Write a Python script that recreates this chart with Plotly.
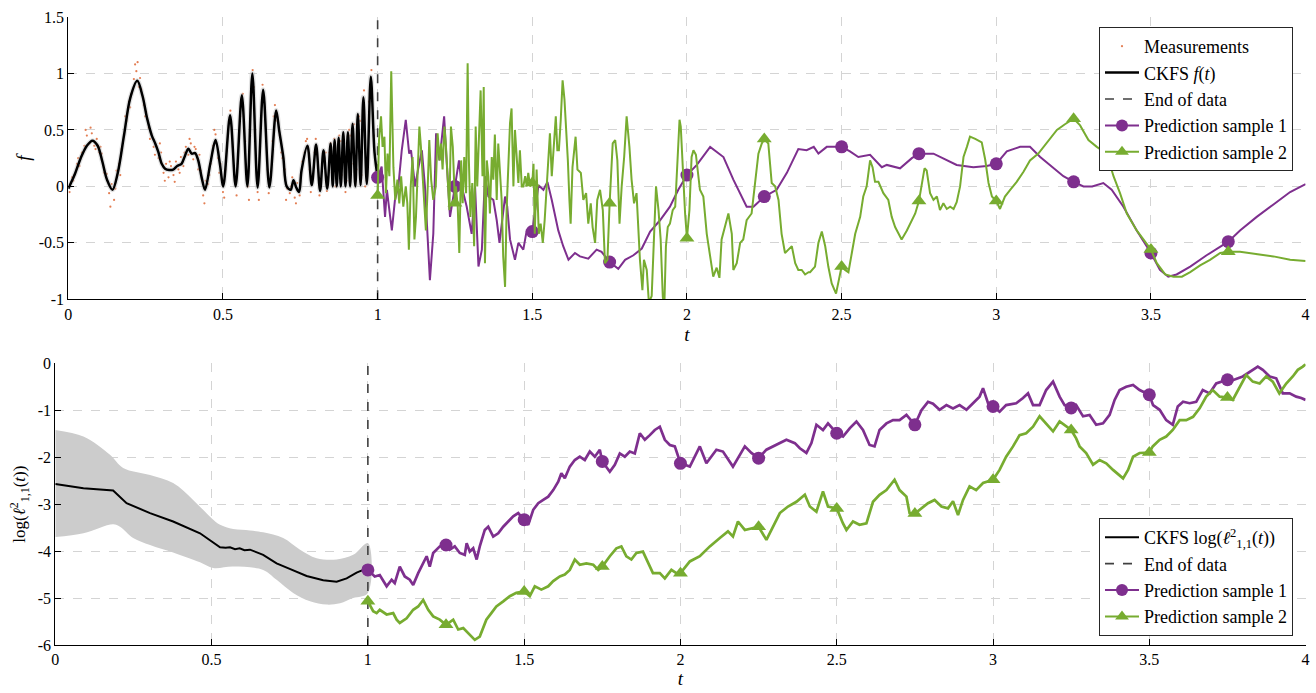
import plotly.graph_objects as go

# ---------------- top panel: f(t) ----------------
meas_t = [0.004, 0.012, 0.020, 0.028, 0.036, 0.044, 0.052, 0.060, 0.068, 0.076, 0.084, 0.092, 0.100, 0.108,
          0.116, 0.124, 0.132, 0.140, 0.148, 0.156, 0.164, 0.172, 0.180, 0.188, 0.196, 0.204, 0.212, 0.220,
          0.228, 0.236, 0.244, 0.252, 0.260, 0.268, 0.276, 0.284, 0.292, 0.300, 0.308, 0.316, 0.324, 0.332,
          0.340, 0.348, 0.356, 0.364, 0.372, 0.380, 0.388, 0.396, 0.404, 0.412, 0.420, 0.428, 0.436, 0.444,
          0.452, 0.460, 0.468, 0.476, 0.484, 0.492, 0.500, 0.508, 0.516, 0.524, 0.532, 0.540, 0.548, 0.556,
          0.564, 0.572, 0.580, 0.588, 0.596, 0.604, 0.612, 0.620, 0.628, 0.636, 0.644, 0.652, 0.660, 0.668,
          0.676, 0.684, 0.692, 0.700, 0.708, 0.716, 0.724, 0.732, 0.740, 0.748, 0.756, 0.764, 0.772, 0.780,
          0.788, 0.796, 0.804, 0.812, 0.820, 0.828, 0.836, 0.844, 0.852, 0.860, 0.868, 0.876, 0.884, 0.892,
          0.900, 0.908, 0.916, 0.924, 0.932, 0.940, 0.948, 0.956, 0.964, 0.972, 0.980, 0.988, 0.996,
          0.016, 0.032, 0.056, 0.072, 0.088, 0.104, 0.136, 0.152, 0.168, 0.184, 0.200, 0.216, 0.224, 0.232,
          0.248, 0.264, 0.280, 0.296, 0.312, 0.328, 0.344, 0.360, 0.376, 0.392, 0.408, 0.424, 0.440, 0.456,
          0.472, 0.488, 0.504, 0.520, 0.544, 0.560, 0.584, 0.600, 0.616, 0.632, 0.648, 0.664, 0.688, 0.704,
          0.720, 0.736, 0.752, 0.768, 0.784, 0.800, 0.816, 0.832, 0.848, 0.864, 0.880, 0.896, 0.912, 0.928,
          0.944, 0.960, 0.976, 0.992]
meas_f = [-0.05, 0.08, 0.10, 0.20, 0.18, 0.30, 0.36, 0.45, 0.38, 0.47, 0.36, 0.42, 0.30, 0.29,
          0.12, 0.11, -0.06, 0.02, -0.12, 0.14, 0.20, 0.33, 0.46, 0.58, 0.75, 0.82, 0.95, 1.02,
          0.88, 0.86, 0.72, 0.66, 0.52, 0.47, 0.35, 0.36, 0.25, 0.30, 0.12, 0.20, 0.08, 0.18,
          0.10, 0.22, 0.15, 0.26, 0.18, 0.35, 0.28, 0.38, 0.24, 0.33, 0.15, 0.14, -0.08, 0.05,
          0.02, 0.20, 0.36, 0.46, 0.25, 0.20, -0.05, 0.15, 0.50, 0.67, 0.35, 0.04, 0.20, 0.62,
          0.82, 0.40, 0.00, 0.45, 1.03, 0.50, -0.05, 0.35, 0.90, 0.70, 0.15, 0.05, 0.40, 0.72,
          0.58, 0.45, 0.25, 0.15, -0.02, -0.06, 0.08, -0.10, 0.03, -0.08, 0.22, 0.30, 0.42, 0.15,
          0.05, 0.30, 0.28, -0.08, 0.20, 0.25, -0.04, 0.30, 0.12, 0.42, 0.05, 0.45, 0.10, 0.38,
          0.05, 0.50, 0.20, 0.55, 0.15, 0.62, 0.10, 0.85, 0.05, 0.75, 1.03, 0.45, 0.12,
          0.05, 0.25, 0.50, 0.52, 0.33, 0.35, -0.18, -0.02, 0.10, 0.62, 0.70, 1.08, 1.10, 0.96,
          0.62, 0.42, 0.28, 0.38, 0.05, 0.22, 0.04, 0.12, 0.30, 0.42, 0.35, 0.28, -0.15, 0.10,
          0.50, 0.12, -0.10, 0.58, -0.08, 0.72, -0.12, 0.88, -0.12, 0.78, -0.06, 0.62, 0.30, -0.12,
          0.00, -0.15, 0.10, 0.40, -0.05, 0.42, 0.05, 0.30, 0.38, 0.00, 0.40, -0.05, 0.45, 0.02,
          0.58, 0.00, 0.90, 0.25]

ckfs_t = [0.0, 0.02, 0.04, 0.06, 0.078, 0.095, 0.11, 0.125, 0.143, 0.16, 0.18, 0.2, 0.223, 0.24, 0.255,
          0.27, 0.281, 0.291, 0.302, 0.313, 0.326, 0.339, 0.352, 0.366, 0.377, 0.388, 0.399, 0.41, 0.42,
          0.431, 0.442, 0.459, 0.476, 0.49, 0.501, 0.523, 0.541, 0.561, 0.579, 0.595, 0.612, 0.63, 0.65,
          0.672, 0.682, 0.695, 0.706, 0.719, 0.728, 0.737, 0.746, 0.754, 0.773, 0.787, 0.801, 0.814,
          0.825, 0.837, 0.848, 0.855, 0.861, 0.868, 0.874, 0.881, 0.889, 0.896, 0.904, 0.911, 0.919,
          0.928, 0.936, 0.945, 0.954, 0.965, 0.978, 0.99, 1.0]
ckfs_f = [-0.02, 0.10, 0.25, 0.36, 0.405, 0.36, 0.22, 0.06, -0.03, 0.12, 0.45, 0.78, 0.935, 0.80, 0.60,
          0.45, 0.38, 0.305, 0.20, 0.157, 0.145, 0.148, 0.18, 0.20, 0.27, 0.334, 0.29, 0.295, 0.23,
          0.08, -0.03, 0.20, 0.41, 0.20, 0.0, 0.63, 0.0, 0.806, 0.0, 1.0, -0.01, 0.855, -0.01,
          0.673, 0.49, 0.26, 0.0, -0.03, 0.055, -0.01, -0.05, 0.14, 0.36, 0.01, 0.37, -0.04,
          0.32, -0.02, 0.38, 0.0, 0.41, 0.0, 0.43, 0.0, 0.48, 0.0, 0.48, 0.0, 0.555,
          0.0, 0.64, 0.01, 0.79, 0.02, 0.97, 0.30, 0.08]

pred1_t = [1.0, 1.013, 1.024, 1.03, 1.046, 1.056, 1.067, 1.078, 1.091, 1.102, 1.108, 1.121, 1.132, 1.143,
           1.153, 1.169, 1.18, 1.189, 1.2, 1.207, 1.215, 1.223, 1.234, 1.25, 1.258, 1.263, 1.272, 1.288,
           1.304, 1.315, 1.326, 1.337, 1.347, 1.358, 1.374, 1.385, 1.394, 1.404, 1.412, 1.419, 1.428,
           1.444, 1.455, 1.471, 1.482, 1.5, 1.52, 1.536, 1.549, 1.563, 1.584, 1.6, 1.617, 1.638, 1.654,
           1.681, 1.708, 1.724, 1.75, 1.778, 1.8, 1.827, 1.854, 1.881, 1.913, 1.945, 1.972, 2.0, 2.032,
           2.075, 2.118, 2.15, 2.193, 2.215, 2.25, 2.29, 2.323, 2.36, 2.387, 2.41, 2.425, 2.452, 2.5,
           2.527, 2.554, 2.592, 2.63, 2.646, 2.689, 2.727, 2.75, 2.797, 2.84, 2.872, 2.926, 2.969, 3.0,
           3.034, 3.077, 3.109, 3.142, 3.185, 3.217, 3.25, 3.282, 3.31, 3.346, 3.373, 3.411, 3.454, 3.5,
           3.529, 3.556, 3.583, 3.627, 3.68, 3.75, 3.788, 3.842, 3.896, 3.95, 4.0]
pred1_f = [0.08, 0.175, -0.27, -0.03, -0.39, -0.12, 0.0, 0.32, 0.59, 0.29, 0.32, 0.0, 0.17, 0.32,
           0.0, -0.83, -0.42, 0.47, 0.23, 0.41, 0.62, 0.23, -0.27, 0.0, 0.15, 0.23, 0.0, -0.18,
           -0.42, 0.0, -0.71, -0.56, 0.09, -0.09, -0.12, -0.30, -0.50, -0.27, -0.09, -0.18, -0.47,
           -0.65, -0.50, -0.56, -0.39, -0.40, 0.01, -0.03, 0.04, -0.12, -0.39, -0.53, -0.65, -0.59, -0.62,
           -0.64, -0.56, -0.58, -0.67, -0.73, -0.65, -0.61, -0.55, -0.40, -0.30, -0.18, -0.03, 0.10, 0.19,
           0.35, 0.26, 0.06, -0.18, -0.18, -0.09, -0.03, 0.12, 0.33, 0.32, 0.35, 0.29, 0.35, 0.35,
           0.31, 0.26, 0.28, 0.17, 0.19, 0.16, 0.25, 0.29, 0.29, 0.23, 0.19, 0.17, 0.18, 0.20,
           0.31, 0.35, 0.35, 0.26, 0.16, 0.09, 0.04, 0.0, 0.0, 0.03, -0.03, -0.18, -0.39, -0.59,
           -0.74, -0.80, -0.78, -0.71, -0.61, -0.49, -0.39, -0.27, -0.16, -0.05, 0.02]

pred2_t = [1.0, 1.0045, 1.011, 1.016, 1.022, 1.027, 1.032, 1.038, 1.044, 1.051, 1.057, 1.064, 1.070, 1.076,
           1.083, 1.091, 1.096, 1.101, 1.107, 1.113, 1.119, 1.124, 1.129, 1.135, 1.140, 1.146, 1.151,
           1.156, 1.162, 1.167, 1.173, 1.18, 1.188, 1.194, 1.2, 1.205, 1.210, 1.216, 1.221, 1.226, 1.232,
           1.237, 1.243, 1.25, 1.253, 1.259, 1.264, 1.270, 1.275, 1.280, 1.286, 1.291, 1.295, 1.3, 1.306,
           1.312, 1.317, 1.322, 1.328, 1.333, 1.339, 1.343, 1.347, 1.353, 1.358, 1.363, 1.369, 1.374,
           1.379, 1.385, 1.39, 1.396, 1.401, 1.406, 1.412, 1.417, 1.423, 1.428, 1.433, 1.439, 1.444, 1.45,
           1.455, 1.460, 1.466, 1.471, 1.477, 1.482, 1.487, 1.493, 1.5, 1.504, 1.508, 1.514, 1.521, 1.527,
           1.534, 1.54, 1.547, 1.552, 1.557, 1.563, 1.568, 1.576, 1.581, 1.586, 1.592, 1.598, 1.604, 1.609,
           1.615, 1.62, 1.624, 1.63, 1.635, 1.64, 1.646, 1.657, 1.665, 1.674, 1.681, 1.689, 1.695, 1.703,
           1.71, 1.719, 1.728, 1.735, 1.743, 1.75, 1.76, 1.768, 1.775, 1.782, 1.789, 1.797, 1.805, 1.814,
           1.821, 1.829, 1.837, 1.848, 1.856, 1.861, 1.87, 1.877, 1.886, 1.893, 1.9, 1.908, 1.915, 1.922,
           1.927, 1.932, 1.938, 1.945, 1.954, 1.962, 1.969, 1.976, 1.98, 1.986, 1.994, 2.0, 2.008, 2.015,
           2.021, 2.029, 2.042, 2.053, 2.064, 2.075, 2.085, 2.096, 2.105, 2.112, 2.123, 2.134, 2.145,
           2.15, 2.161, 2.172, 2.182, 2.193, 2.209, 2.22, 2.231, 2.242, 2.25, 2.263, 2.274, 2.285, 2.296,
           2.306, 2.317, 2.328, 2.339, 2.35, 2.36, 2.371, 2.382, 2.393, 2.398, 2.414, 2.425, 2.436, 2.447,
           2.457, 2.468, 2.482, 2.49, 2.5, 2.511, 2.522, 2.533, 2.544, 2.56, 2.57, 2.581, 2.592, 2.6,
           2.608, 2.619, 2.635, 2.651, 2.662, 2.673, 2.684, 2.694, 2.711, 2.727, 2.738, 2.75, 2.759,
           2.768, 2.775, 2.786, 2.797, 2.808, 2.818, 2.829, 2.84, 2.851, 2.862, 2.872, 2.883, 2.894,
           2.905, 2.915, 2.932, 2.953, 2.964, 2.975, 2.986, 3.0, 3.012, 3.028, 3.045, 3.066, 3.088,
           3.109, 3.136, 3.163, 3.196, 3.222, 3.25, 3.271, 3.298, 3.325, 3.357, 3.379, 3.4, 3.422,
           3.454, 3.5, 3.519, 3.546, 3.573, 3.6, 3.627, 3.659, 3.691, 3.724, 3.75, 3.788, 3.842, 3.896,
           3.95, 4.0]
pred2_f = [-0.08, 0.41, 0.62, 0.35, 0.44, -0.06, 0.29, 0.09, 1.02, 0.17, -0.12, 0.06, -0.15, 0.09,
           -0.18, 0.0, -0.15, -0.56, 0.0, 0.26, -0.47, -0.27, 0.09, 0.53, 0.35, 0.09, -0.15,
           -0.39, 0.0, 0.41, 0.06, -0.12, 0.0, 0.47, 0.23, 0.38, 0.15, 0.53, 0.35, 0.06, -0.21,
           0.53, 0.35, -0.15, 0.0, -0.18, -0.59, 0.23, -0.15, 0.26, -0.06, 1.09, 0.23, -0.27, 0.03,
           -0.53, 0.53, 0.0, 0.38, 0.85, 0.09, 0.88, -0.68, 0.23, 0.09, -0.24, 0.26, 0.06,
           0.46, -0.12, 0.38, 0.12, -0.12, -0.62, -0.89, -0.21, 0.23, 0.56, 0.69, 0.0, 0.50, 0.23,
           0.03, 0.32, 0.0, 0.0, 0.09, 0.0, 0.12, 0.0, 0.03, 0.20, -0.42, 0.15, -0.42, -0.33,
           -0.50, -0.30, 0.0, 0.20, 0.47, 0.09, 0.29, 0.62, 0.32, 0.32, 0.59, 0.94, 0.77, 0.53,
           0.23, -0.12, -0.33, 0.17, 0.29, 0.44, 0.15, 0.12, -0.12, -0.06, -0.33, -0.15, -0.36, -0.50,
           -0.12, -0.03, -0.21, -0.68, -0.65, -0.15, 0.38, 0.41, 0.23, -0.33, 0.0, 0.26, 0.62, 0.35,
           0.06, -0.15, -0.06, -0.65, -0.92, -0.65, -0.74, -1.03, -0.97, -0.42, 0.0, -0.21, -0.47, -0.98,
           -1.05, -0.53, -0.36, -0.33, -0.21, -0.18, 0.23, 0.59, 0.53, 0.17, -0.24, -0.46, -0.21, 0.26,
           0.32, 0.28, -0.03, -0.09, -0.42, -0.62, -0.80, -0.72, -0.81, -0.47, -0.35, -0.24, -0.42,
           -0.74, -0.68, -0.50, -0.47, -0.30, -0.24, 0.0, 0.29, 0.38, 0.42, 0.38, 0.03, 0.0, -0.12,
           -0.42, -0.59, -0.56, -0.53, -0.68, -0.74, -0.74, -0.78, -0.76, -0.76, -0.71, -0.50, -0.40, -0.53,
           -0.71, -0.86, -0.95, -0.83, -0.71, -0.74, -0.76, -0.59, -0.42, -0.27, -0.09, 0.0, 0.23, 0.17,
           0.04, 0.04, -0.06, -0.12, -0.27, -0.36, -0.42, -0.47, -0.39, -0.30, -0.24, -0.13, 0.0,
           0.16, 0.14, -0.06, -0.12, -0.09, -0.21, -0.15, -0.20, -0.18, -0.20, -0.14, 0.0, 0.26,
           0.35, 0.44, 0.42, 0.39, 0.24, 0.03, -0.09, -0.13, -0.20, -0.09, -0.03, 0.04, 0.13,
           0.23, 0.29, 0.38, 0.50, 0.55, 0.60, 0.54, 0.41, 0.35, 0.29, 0.09, -0.06, -0.24,
           -0.39, -0.56, -0.68, -0.78, -0.80, -0.80, -0.76, -0.70, -0.65, -0.59, -0.58, -0.58, -0.60, -0.62,
           -0.65, -0.66]

# ---------------- bottom panel: log length-scale ----------------
ckfs_log_t = [0.0, 0.09, 0.185, 0.2, 0.228, 0.303, 0.377, 0.463, 0.5, 0.527, 0.545, 0.559, 0.575, 0.59,
              0.605, 0.623, 0.665, 0.708, 0.75, 0.804, 0.857, 0.9, 0.932, 0.964, 0.985, 1.0]
ckfs_log = [-2.57, -2.66, -2.71, -2.80, -2.98, -3.19, -3.37, -3.62, -3.80, -3.92, -3.93, -3.92, -3.96, -3.94,
            -3.98, -3.97, -4.08, -4.26, -4.38, -4.53, -4.62, -4.65, -4.58, -4.46, -4.40, -4.40]

band_hi_t = [0.0, 0.09, 0.175, 0.217, 0.303, 0.377, 0.441, 0.5, 0.527, 0.569, 0.623, 0.665, 0.729, 0.783,
             0.836, 0.9, 0.953, 1.0]
band_hi = [-1.42, -1.56, -1.95, -2.23, -2.38, -2.55, -2.91, -3.30, -3.44, -3.53, -3.56, -3.60, -3.72, -3.97,
           -4.15, -4.18, -4.08, -3.83]
band_lo_t = [0.0, 0.09, 0.185, 0.207, 0.249, 0.303, 0.377, 0.463, 0.505, 0.569, 0.665, 0.708, 0.761, 0.815,
             0.868, 0.911, 0.953, 1.0]
band_lo = [-3.70, -3.62, -3.43, -3.48, -3.72, -3.87, -4.03, -4.24, -4.36, -4.33, -4.40, -4.61, -4.89, -5.07,
           -5.14, -5.11, -5.00, -4.89]

logp1_t = [1.0, 1.022, 1.038, 1.06, 1.076, 1.086, 1.102, 1.118, 1.134, 1.145, 1.161, 1.177, 1.188, 1.198,
           1.209, 1.23, 1.25, 1.262, 1.278, 1.294, 1.310, 1.316, 1.326, 1.337, 1.348, 1.358, 1.374, 1.385,
           1.401, 1.417, 1.433, 1.449, 1.465, 1.481, 1.5, 1.513, 1.529, 1.545, 1.561, 1.577, 1.593, 1.609,
           1.619, 1.63, 1.646, 1.662, 1.678, 1.694, 1.71, 1.726, 1.742, 1.75, 1.774, 1.79, 1.806, 1.822,
           1.838, 1.854, 1.87, 1.886, 1.902, 1.918, 1.934, 1.95, 1.966, 1.982, 2.0, 2.03, 2.062, 2.083,
           2.115, 2.136, 2.168, 2.206, 2.227, 2.25, 2.275, 2.307, 2.339, 2.366, 2.382, 2.403, 2.419,
           2.435, 2.456, 2.472, 2.5, 2.52, 2.542, 2.563, 2.584, 2.605, 2.621, 2.637, 2.659, 2.68, 2.701,
           2.723, 2.75, 2.771, 2.792, 2.808, 2.829, 2.851, 2.872, 2.893, 2.915, 2.936, 2.957, 2.968,
           2.984, 3.0, 3.021, 3.042, 3.074, 3.096, 3.112, 3.128, 3.149, 3.17, 3.192, 3.213, 3.229, 3.25,
           3.266, 3.288, 3.309, 3.33, 3.352, 3.373, 3.389, 3.405, 3.426, 3.448, 3.469, 3.5, 3.512, 3.533,
           3.554, 3.575, 3.591, 3.608, 3.629, 3.65, 3.671, 3.693, 3.714, 3.75, 3.767, 3.799, 3.821,
           3.847, 3.863, 3.885, 3.906, 3.927, 3.949, 3.97, 3.986, 4.0]
logp1 = [-4.40, -4.54, -4.51, -4.75, -4.61, -4.68, -4.33, -4.54, -4.61, -4.72, -4.47, -4.26, -4.11, -4.33,
         -4.04, -3.90, -3.87, -3.97, -3.90, -4.04, -4.08, -3.83, -4.01, -3.94, -4.18, -3.90, -3.55, -3.48,
         -3.69, -3.62, -3.48, -3.37, -3.26, -3.19, -3.33, -3.44, -3.12, -2.98, -2.91, -2.84, -2.70, -2.52,
         -2.34, -2.45, -2.20, -2.06, -1.99, -2.06, -1.88, -1.99, -1.84, -2.09, -2.31, -2.16, -1.92, -1.99,
         -1.88, -1.92, -1.49, -1.63, -1.53, -1.42, -1.35, -1.63, -1.74, -1.77, -2.13, -2.20, -1.77, -2.13,
         -1.84, -1.88, -2.20, -1.77, -1.91, -2.02, -1.84, -1.74, -1.63, -1.70, -1.81, -1.91, -1.70,
         -1.31, -1.42, -1.28, -1.49, -1.56, -1.38, -1.24, -1.42, -1.74, -1.77, -1.42, -1.28, -1.21, -1.21,
         -1.10, -1.31, -1.00, -0.82, -0.86, -0.99, -0.89, -0.96, -0.89, -0.99, -0.85, -0.71, -0.53,
         -0.85, -0.92, -1.03, -0.89, -0.85, -0.74, -0.64, -0.89, -0.89, -0.57, -0.39, -0.71, -0.89, -0.95,
         -0.89, -1.13, -1.10, -1.31, -1.28, -1.10, -0.78, -0.57, -0.50, -0.46, -0.57, -0.67, -0.89, -0.99,
         -1.21, -1.31, -0.92, -0.82, -0.85, -0.82, -0.57, -0.64, -0.43, -0.35, -0.36, -0.28, -0.18,
         -0.07, -0.14, -0.28, -0.32, -0.64, -0.64, -0.71, -0.74, -0.78]

logp2_t = [1.0, 1.017, 1.028, 1.038, 1.06, 1.081, 1.092, 1.102, 1.124, 1.145, 1.161, 1.177, 1.193, 1.209,
           1.23, 1.25, 1.273, 1.289, 1.305, 1.326, 1.342, 1.358, 1.379, 1.395, 1.411, 1.433, 1.454, 1.475,
           1.5, 1.518, 1.534, 1.555, 1.577, 1.593, 1.614, 1.63, 1.646, 1.662, 1.678, 1.699, 1.721, 1.737,
           1.75, 1.774, 1.795, 1.811, 1.827, 1.843, 1.859, 1.88, 1.897, 1.912, 1.934, 1.95, 1.971, 1.987,
           2.0, 2.03, 2.062, 2.094, 2.126, 2.152, 2.168, 2.184, 2.206, 2.227, 2.25, 2.275, 2.296, 2.318,
           2.344, 2.371, 2.398, 2.414, 2.435, 2.456, 2.472, 2.5, 2.52, 2.531, 2.552, 2.573, 2.595, 2.616,
           2.637, 2.659, 2.685, 2.701, 2.723, 2.733, 2.75, 2.771, 2.792, 2.813, 2.835, 2.856, 2.872, 2.888,
           2.904, 2.925, 2.946, 2.968, 3.0, 3.021, 3.042, 3.064, 3.085, 3.106, 3.128, 3.149, 3.17, 3.192,
           3.213, 3.25, 3.266, 3.277, 3.298, 3.32, 3.341, 3.362, 3.384, 3.405, 3.416, 3.432, 3.448, 3.469,
           3.5, 3.511, 3.533, 3.554, 3.575, 3.597, 3.618, 3.64, 3.661, 3.682, 3.703, 3.725, 3.75, 3.767,
           3.789, 3.81, 3.831, 3.853, 3.874, 3.895, 3.916, 3.938, 3.959, 3.975, 3.991, 4.0]
logp2 = [-5.07, -5.28, -5.32, -5.25, -5.35, -5.32, -5.46, -5.53, -5.43, -5.25, -5.18, -5.04, -5.25, -5.39,
         -5.46, -5.57, -5.46, -5.67, -5.64, -5.78, -5.89, -5.82, -5.46, -5.32, -5.18, -5.07, -4.96, -4.89,
         -4.86, -4.96, -4.75, -4.82, -4.75, -4.64, -4.54, -4.50, -4.40, -4.18, -4.29, -4.26, -4.29, -4.40,
         -4.33, -4.11, -3.94, -3.90, -4.11, -4.18, -4.04, -4.01, -4.26, -4.47, -4.47, -4.58, -4.40, -4.47,
         -4.47, -4.22, -4.11, -3.90, -3.72, -3.58, -3.69, -3.37, -3.55, -3.51, -3.48, -3.76, -3.48, -3.19,
         -3.05, -2.95, -2.80, -3.05, -3.16, -2.73, -3.05, -3.09, -3.41, -3.55, -3.37, -3.44, -3.41, -2.95,
         -2.80, -2.70, -2.48, -2.70, -2.84, -3.19, -3.20, -3.09, -2.98, -2.91, -3.05, -3.09, -2.94, -3.23,
         -2.91, -2.62, -2.70, -2.55, -2.48, -2.27, -1.99, -1.77, -1.53, -1.49, -1.35, -1.13, -1.28, -1.45,
         -1.24, -1.42, -1.60, -1.77, -1.91, -2.16, -2.06, -2.13, -2.27, -2.38, -2.45, -2.27, -1.99, -1.91,
         -1.90, -1.77, -1.63, -1.56, -1.42, -1.21, -1.21, -1.14, -0.96, -0.71, -0.57, -0.71, -0.73, -0.78,
         -0.50, -0.25, -0.39, -0.43, -0.28, -0.39, -0.64, -0.43, -0.28, -0.14, -0.07, -0.02]

marker_t = [1.0, 1.25, 1.5, 1.75, 2.0, 2.25, 2.5, 2.75, 3.0, 3.25, 3.5, 3.75]
end_of_data = 1.0

tick_x = [0, 0.5, 1, 1.5, 2, 2.5, 3, 3.5, 4]
tick_x_text = ["0", "0.5", "1", "1.5", "2", "2.5", "3", "3.5", "4"]
tick_f = [-1, -0.5, 0, 0.5, 1, 1.5]
tick_f_text = ["-1", "-0.5", "0", "0.5", "1", "1.5"]
tick_log = [-6, -5, -4, -3, -2, -1, 0]
tick_log_text = ["-6", "-5", "-4", "-3", "-2", "-1", "0"]

PURPLE = "#7E2F8E"
GREEN = "#77AC30"
ORANGE = "#D95319"
DASHC = "#404040"
FONT = "'Liberation Serif', 'Times New Roman', 'DejaVu Serif', serif"


def at_markers(ts, vs):
    lookup = dict(zip(ts, vs))
    xs = [t for t in marker_t if t in lookup]
    return xs, [lookup[t] for t in xs]


W, H = 1316, 693
fig = go.Figure()

# top panel traces
fig.add_trace(go.Scatter(x=meas_t, y=meas_f, mode="markers", name="Measurements",
                         marker=dict(color=ORANGE, size=2.2, opacity=0.75),
                         xaxis="x", yaxis="y", legend="legend"))
fig.add_trace(go.Scatter(x=ckfs_t, y=ckfs_f, mode="lines", showlegend=False, hoverinfo="skip",
                         line=dict(color="rgba(190,190,190,0.45)", width=5, shape="spline", smoothing=0.9),
                         xaxis="x", yaxis="y"))
fig.add_trace(go.Scatter(x=ckfs_t, y=ckfs_f, mode="lines", name="CKFS <i>f</i>(<i>t</i>)",
                         line=dict(color="black", width=2.5, shape="spline", smoothing=0.9),
                         xaxis="x", yaxis="y", legend="legend"))
fig.add_trace(go.Scatter(x=[end_of_data, end_of_data], y=[-1, 1.5], mode="lines", name="End of data",
                         line=dict(color=DASHC, width=1.6, dash="dash"),
                         xaxis="x", yaxis="y", legend="legend"))
for ts, vs, col, sym, nm in [(pred1_t, pred1_f, PURPLE, "circle", "Prediction sample 1"),
                             (pred2_t, pred2_f, GREEN, "triangle-up", "Prediction sample 2")]:
    fig.add_trace(go.Scatter(x=ts, y=vs, mode="lines", showlegend=False,
                             line=dict(color=col, width=2), xaxis="x", yaxis="y"))
    mx, my = at_markers(ts, vs)
    fig.add_trace(go.Scatter(x=mx, y=my, mode="markers", showlegend=False,
                             marker=dict(color=col, size=13, symbol=sym), xaxis="x", yaxis="y"))
    fig.add_trace(go.Scatter(x=[None], y=[None], mode="lines+markers", name=nm,
                             line=dict(color=col, width=2), marker=dict(color=col, size=12, symbol=sym),
                             xaxis="x", yaxis="y", legend="legend"))

# bottom panel traces
fig.add_trace(go.Scatter(x=band_hi_t + band_lo_t[::-1], y=band_hi + band_lo[::-1], mode="lines",
                         fill="toself", fillcolor="#cccccc", line=dict(width=0, shape="spline"),
                         showlegend=False, hoverinfo="skip", xaxis="x2", yaxis="y2"))
fig.add_trace(go.Scatter(x=ckfs_log_t, y=ckfs_log, mode="lines",
                         name="CKFS log(<i>ℓ</i><sup>2</sup><sub>1,1</sub>(<i>t</i>))",
                         line=dict(color="black", width=2), xaxis="x2", yaxis="y2", legend="legend2"))
fig.add_trace(go.Scatter(x=[end_of_data, end_of_data], y=[-6, 0], mode="lines", name="End of data",
                         line=dict(color=DASHC, width=1.6, dash="dash"),
                         xaxis="x2", yaxis="y2", legend="legend2"))
for ts, vs, col, sym, nm in [(logp1_t, logp1, PURPLE, "circle", "Prediction sample 1"),
                             (logp2_t, logp2, GREEN, "triangle-up", "Prediction sample 2")]:
    fig.add_trace(go.Scatter(x=ts, y=vs, mode="lines", showlegend=False,
                             line=dict(color=col, width=2.7), xaxis="x2", yaxis="y2"))
    mx, my = at_markers(ts, vs)
    fig.add_trace(go.Scatter(x=mx, y=my, mode="markers", showlegend=False,
                             marker=dict(color=col, size=13, symbol=sym), xaxis="x2", yaxis="y2"))
    fig.add_trace(go.Scatter(x=[None], y=[None], mode="lines+markers", name=nm,
                             line=dict(color=col, width=2), marker=dict(color=col, size=12, symbol=sym),
                             xaxis="x2", yaxis="y2", legend="legend2"))

axis_common = dict(showline=True, linecolor="black", linewidth=1, ticks="inside", ticklen=6,
                   tickcolor="black", showgrid=True, gridcolor="#d4d4d4", griddash="dash", gridwidth=1,
                   zeroline=False, automargin=False, tickfont=dict(family=FONT, size=16, color="black"))

legend_common = dict(xanchor="right", bgcolor="white", bordercolor="#262626", borderwidth=1,
                     font=dict(family=FONT, size=18, color="black"), tracegroupgap=0, itemwidth=34)

fig.update_layout(
    width=W, height=H, margin=dict(l=0, r=0, t=0, b=0),
    paper_bgcolor="white", plot_bgcolor="white",
    font=dict(family=FONT, color="black"),
    xaxis=dict(axis_common, domain=[68.3 / W, 1305.6 / W], range=[0, 4], tickvals=tick_x,
               ticktext=tick_x_text, anchor="y",
               title=dict(text="<i>t</i>", font=dict(family=FONT, size=19), standoff=6)),
    yaxis=dict(axis_common, domain=[1 - 299.3 / H, 1 - 17 / H], range=[-1, 1.5], tickvals=tick_f,
               ticktext=tick_f_text, anchor="x",
               title=dict(text="<i>f</i>", font=dict(family=FONT, size=19), standoff=3)),
    xaxis2=dict(axis_common, domain=[55.3 / W, 1305.6 / W], range=[0, 4], tickvals=tick_x,
                ticktext=tick_x_text, anchor="y2",
                title=dict(text="<i>t</i>", font=dict(family=FONT, size=19), standoff=4)),
    yaxis2=dict(axis_common, domain=[1 - 645 / H, 1 - 363.3 / H], range=[-6, 0], tickvals=tick_log,
                ticktext=tick_log_text, anchor="x2",
                title=dict(text="log(<i>ℓ</i><sup>2</sup><sub>1,1</sub>(<i>t</i>))",
                           font=dict(family=FONT, size=17), standoff=7)),
    legend=dict(legend_common, x=1293 / W, y=1 - 27 / H, yanchor="top"),
    legend2=dict(legend_common, x=1293 / W, y=1 - 636 / H, yanchor="bottom"),
)

fig.write_html("out.html")
